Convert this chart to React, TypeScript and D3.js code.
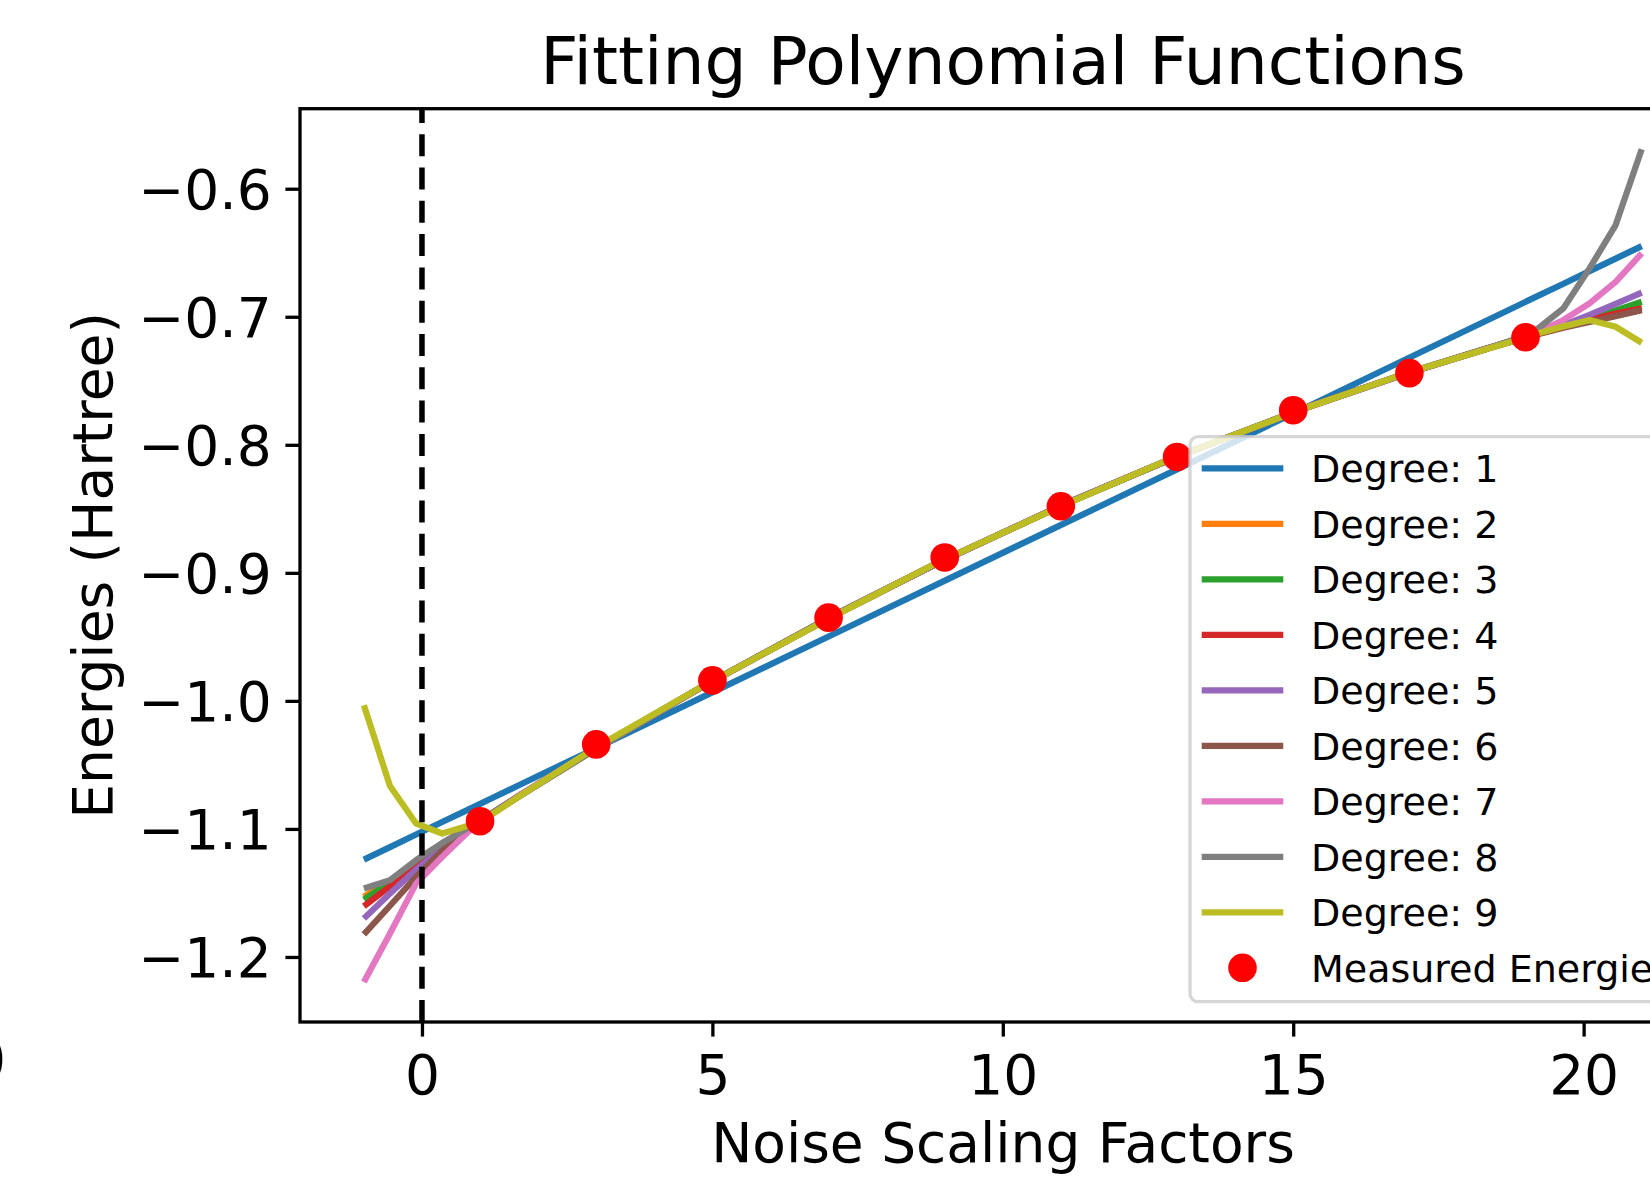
import { useRef, useEffect } from "react";
import * as d3 from "d3";

const sampleX = [
  -1, -0.551, -0.102, 0.347, 0.796, 1.245, 1.694, 3.041, 4.837, 7.082, 8.878,
  11.122, 12.918, 15.163, 16.959, 18.306, 18.755, 19.204, 19.653, 20.102, 20.551, 21,
];

const degree1 = [-1.124, -1.1142, -1.1044, -1.0946, -1.0849, -1.0751, -1.0653, -1.036, -0.9969, -0.948, -0.9088, -0.86, -0.8209, -0.772, -0.7328, -0.7035, -0.6937, -0.6839, -0.6742, -0.6644, -0.6546, -0.6448];
const degree2 = [-1.153, -1.1404, -1.1268, -1.1133, -1.1, -1.0869, -1.074, -1.0363, -0.9887, -0.9333, -0.8922, -0.8451, -0.8107, -0.7719, -0.7442, -0.7253, -0.7194, -0.7136, -0.7081, -0.7027, -0.6975, -0.692];
const degree3 = [-1.1552, -1.1415, -1.1274, -1.1135, -1.1, -1.0868, -1.0738, -1.036, -0.9885, -0.9334, -0.8924, -0.8453, -0.8108, -0.7718, -0.744, -0.725, -0.7189, -0.7129, -0.707, -0.7011, -0.695, -0.6883];
const degree4 = [-1.1604, -1.1448, -1.129, -1.1141, -1.1001, -1.0866, -1.0736, -1.0359, -0.9886, -0.9336, -0.8924, -0.8451, -0.8106, -0.7719, -0.7441, -0.7252, -0.7192, -0.7134, -0.7078, -0.7024, -0.6975, -0.6935];
const degree5 = [-1.17, -1.1505, -1.1318, -1.1153, -1.1005, -1.0866, -1.0734, -1.0357, -0.9887, -0.9337, -0.8924, -0.845, -0.8107, -0.772, -0.7443, -0.7252, -0.719, -0.713, -0.7065, -0.6985, -0.69, -0.6812];
const degree6 = [-1.1823, -1.16, -1.1375, -1.117, -1.1008, -1.0866, -1.0735, -1.0358, -0.9887, -0.9336, -0.8923, -0.8451, -0.8107, -0.7719, -0.7442, -0.7254, -0.7196, -0.7136, -0.7085, -0.704, -0.6995, -0.6948];
const degree7 = [-1.2195, -1.1817, -1.1427, -1.1219, -1.1023, -1.087, -1.0733, -1.0358, -0.9888, -0.9335, -0.8922, -0.8452, -0.8107, -0.7719, -0.7442, -0.7253, -0.719, -0.7122, -0.7025, -0.6895, -0.6727, -0.6505];
const degree8 = [-1.1466, -1.14, -1.1244, -1.111, -1.099, -1.0866, -1.074, -1.0362, -0.9887, -0.9334, -0.8922, -0.8451, -0.8107, -0.7719, -0.7442, -0.7255, -0.7185, -0.7095, -0.6934, -0.6622, -0.6284, -0.5692];
const degree9 = [-1.0034, -1.0665, -1.0958, -1.1036, -1.0975, -1.0875, -1.074, -1.035, -0.9885, -0.934, -0.892, -0.8455, -0.8105, -0.772, -0.744, -0.7255, -0.7195, -0.713, -0.7075, -0.7026, -0.7078, -0.7203];

const fits = [degree1, degree2, degree3, degree4, degree5, degree6, degree7, degree8, degree9];
const fitLabels = ["Degree: 1", "Degree: 2", "Degree: 3", "Degree: 4", "Degree: 5", "Degree: 6", "Degree: 7", "Degree: 8", "Degree: 9"];
const fitColors = ["#1f77b4", "#ff7f0e", "#2ca02c", "#d62728", "#9467bd", "#8c564b", "#e377c2", "#7f7f7f", "#bcbd22"];

const measuredX = [1, 3, 5, 7, 9, 11, 13, 15, 17, 19];
const measuredEnergies = [-1.094, -1.034, -0.984, -0.935, -0.888, -0.848, -0.8095, -0.773, -0.744, -0.716];

const xTicks = [0, 5, 10, 15, 20];
const yTicks = [-0.6, -0.7, -0.8, -0.9, -1.0, -1.1, -1.2];

export default function App() {
  const svgRef = useRef(null);

  useEffect(() => {
    const width = 1650;
    const height = 1178;
    const font = "DejaVu Sans, Verdana, sans-serif";
    const svg = d3.select(svgRef.current);
    svg.selectAll("*").remove();
    svg.attr("width", width).attr("height", height).style("font-family", font);

    const left = 300, right = 1705.6, top = 108.7, bottom = 1022;
    const x = d3.scaleLinear().domain([-2.1, 22.1]).range([left, right]);
    const y = d3.scaleLinear().domain([-1.2508, -0.5375]).range([bottom, top]);

    svg.append("rect").attr("width", width).attr("height", height).attr("fill", "#fff");

    svg.append("clipPath").attr("id", "plot-clip")
      .append("rect").attr("x", left).attr("y", top)
      .attr("width", right - left).attr("height", bottom - top);

    const plot = svg.append("g").attr("clip-path", "url(#plot-clip)");

    const line = d3.line<number>()
      .x((_, i) => x(sampleX[i]))
      .y((d) => y(d));

    fits.forEach((vals, i) => {
      plot.append("path")
        .attr("d", line(vals))
        .attr("fill", "none")
        .attr("stroke", fitColors[i])
        .attr("stroke-width", 6.25)
        .attr("stroke-linejoin", "round")
        .attr("stroke-linecap", "butt");
    });

    // zero-noise extrapolation marker
    plot.append("line")
      .attr("x1", x(0)).attr("x2", x(0))
      .attr("y1", bottom).attr("y2", top)
      .attr("stroke", "#000")
      .attr("stroke-width", 5.5)
      .attr("stroke-dasharray", "22,11.3");

    plot.selectAll("circle.measured")
      .data(measuredX)
      .join("circle")
      .attr("class", "measured")
      .attr("cx", (d) => x(d))
      .attr("cy", (_, i) => y(measuredEnergies[i]))
      .attr("r", 14.3)
      .attr("fill", "#ff0000");

    // axes
    const xAxis = svg.append("g")
      .attr("transform", `translate(0,${bottom})`)
      .call(d3.axisBottom(x).tickValues(xTicks).tickSize(14.6).tickSizeOuter(0).tickPadding(18.4).tickFormat(d3.format("d")));
    const yAxis = svg.append("g")
      .attr("transform", `translate(${left},0)`)
      .call(d3.axisLeft(y).tickValues(yTicks).tickSize(14.6).tickSizeOuter(0).tickPadding(13.7)
        .tickFormat((d) => d3.format(".1f")(d as number).replace("-", "\u2212")));

    [xAxis, yAxis].forEach((g) => {
      g.select(".domain").remove();
      g.selectAll("line").attr("stroke", "#000").attr("stroke-width", 3.3);
      g.selectAll("text").attr("fill", "#000").style("font-family", font).style("font-size", "55px");
    });
    yAxis.selectAll("text").attr("dy", "0.36em");

    svg.append("rect")
      .attr("x", left).attr("y", top)
      .attr("width", right - left).attr("height", bottom - top)
      .attr("fill", "none").attr("stroke", "#000").attr("stroke-width", 3.3);

    // legend
    const lg = svg.append("g");
    lg.append("rect")
      .attr("x", 1190).attr("y", 436.7)
      .attr("width", 496).attr("height", 565)
      .attr("rx", 8)
      .attr("fill", "#fff").attr("fill-opacity", 0.8)
      .attr("stroke", "#cccccc").attr("stroke-opacity", 0.8)
      .attr("stroke-width", 3.3);
    const rowY = (i: number) => 468.3 + i * 55.5;
    fitLabels.forEach((label, i) => {
      lg.append("line")
        .attr("x1", 1201.7).attr("x2", 1283.3)
        .attr("y1", rowY(i)).attr("y2", rowY(i))
        .attr("stroke", fitColors[i]).attr("stroke-width", 6.25);
      lg.append("text")
        .attr("x", 1311).attr("y", rowY(i) + 14)
        .style("font-size", "38px")
        .text(label);
    });
    lg.append("circle").attr("cx", 1242.5).attr("cy", rowY(9)).attr("r", 14.3).attr("fill", "#ff0000");
    lg.append("text").attr("x", 1311).attr("y", rowY(9) + 14).style("font-size", "38px").text("Measured Energies");

    // titles
    svg.append("text")
      .attr("x", 1003).attr("y", 84.3)
      .attr("text-anchor", "middle")
      .style("font-size", "66.3px")
      .text("Fitting Polynomial Functions");
    svg.append("text")
      .attr("x", 1003).attr("y", 1162)
      .attr("text-anchor", "middle")
      .style("font-size", "55px")
      .text("Noise Scaling Factors");
    svg.append("text")
      .attr("transform", "translate(111.7,565.4) rotate(-90)")
      .attr("text-anchor", "middle")
      .style("font-size", "55px")
      .text("Energies (Hartree)");

    // edge of a neighbouring label, cut by the crop
    svg.append("text")
      .attr("x", 6).attr("y", 1079)
      .attr("text-anchor", "end")
      .style("font-size", "55px")
      .text("0");
  }, []);

  return (
    <svg
      ref={svgRef}
      style={{ position: "absolute", left: 0, top: 0, display: "block", overflow: "hidden" }}
    />
  );
}
